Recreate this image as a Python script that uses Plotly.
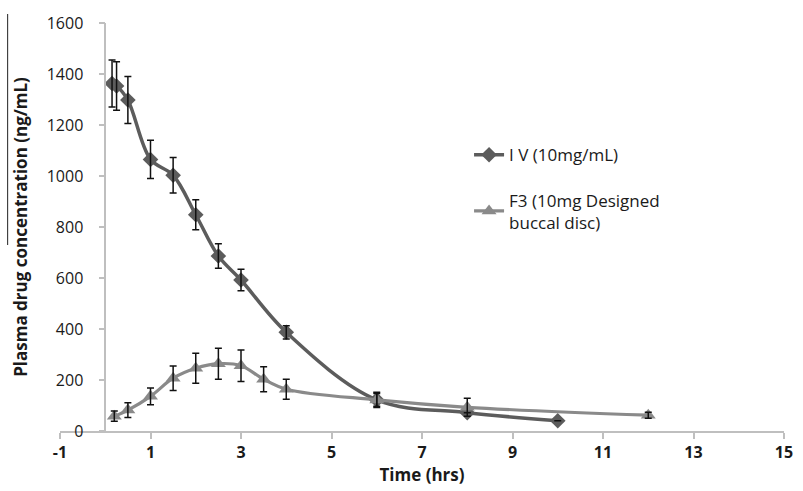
import plotly.graph_objects as go

# Data
iv_time = [0.15, 0.25, 0.5, 1, 1.5, 2, 2.5, 3, 4, 6, 8, 10]
iv_conc = [1363, 1353, 1298, 1065, 1003, 848, 686, 592, 387, 122, 72, 40]
iv_err = [92, 95, 92, 75, 70, 59, 48, 42, 26, 30, 0, 0]

f3_time = [0.2, 0.5, 1, 1.5, 2, 2.5, 3, 3.5, 4, 6, 8, 12]
f3_conc = [58, 82, 136, 207, 246, 264, 256, 203, 164, 122, 93, 62]
f3_err = [20, 29, 33, 48, 59, 61, 62, 49, 39, 25, 35, 12]

iv_name = "I V (10mg/mL)"
f3_name = "F3 (10mg Designed<br>buccal disc)"

x_ticks = [-1, 1, 3, 5, 7, 9, 11, 13, 15]
y_ticks = [0, 200, 400, 600, 800, 1000, 1200, 1400, 1600]

IV_COL = "#5c5c5c"
F3_COL = "#8a8a8a"
FONT = "'Open Sans', sans-serif"

fig = go.Figure()

fig.add_trace(go.Scatter(
    x=iv_time, y=iv_conc, name=iv_name, mode="lines+markers",
    line=dict(color=IV_COL, width=3.5, shape="spline", smoothing=1.0),
    marker=dict(symbol="diamond", size=12, color=IV_COL),
    legendgroup="iv",
))
fig.add_trace(go.Scatter(
    x=f3_time, y=f3_conc, name=f3_name, mode="lines+markers",
    line=dict(color=F3_COL, width=3.2, shape="spline", smoothing=1.0),
    marker=dict(symbol="triangle-up", size=13, color=F3_COL),
    legendgroup="f3",
))
# error bars on top
fig.add_trace(go.Scatter(
    x=iv_time, y=iv_conc, mode="markers", showlegend=False, hoverinfo="skip",
    marker=dict(size=1, opacity=0),
    error_y=dict(type="data", array=iv_err, visible=True, color="#111111",
                 thickness=1.5, width=3.5),
))
fig.add_trace(go.Scatter(
    x=f3_time, y=f3_conc, mode="markers", showlegend=False, hoverinfo="skip",
    marker=dict(size=1, opacity=0),
    error_y=dict(type="data", array=f3_err, visible=True, color="#111111",
                 thickness=1.5, width=3.5),
))

fig.update_layout(
    width=803, height=491,
    margin=dict(l=60, r=10, t=23, b=60),
    plot_bgcolor="white", paper_bgcolor="white",
    font=dict(family=FONT, size=16, color="#1a1a1a"),
    showlegend=True,
    legend=dict(x=0.565, y=0.72, xanchor="left", yanchor="top",
                bgcolor="rgba(0,0,0,0)", font=dict(size=17, color="#1a1a1a"),
                traceorder="grouped", tracegroupgap=20, itemwidth=30),
    xaxis=dict(
        range=[-1, 15], tickvals=x_ticks, ticktext=[str(v) for v in x_ticks],
        showgrid=False, zeroline=False, showline=True, linecolor="#bfbfbf",
        linewidth=1.5, ticks="outside", ticklen=6, tickcolor="#bfbfbf",
        tickwidth=1.5, tickfont=dict(size=16, weight="bold"),
        title=dict(text="<b>Time (hrs)</b>", font=dict(size=17), standoff=0),
    ),
    yaxis=dict(
        range=[0, 1600], tickvals=y_ticks, ticktext=[str(v) for v in y_ticks],
        anchor="free", position=1/16,
        showgrid=False, zeroline=False, showline=True, linecolor="#bfbfbf",
        linewidth=1.5, ticks="outside", ticklen=6, tickcolor="#bfbfbf",
        tickwidth=1.5, tickfont=dict(size=16), ticklabelstandoff=12,
        title=dict(text="<b>Plasma drug concentration (ng/mL)</b>",
                   font=dict(size=17), standoff=14),
    ),
)

# thin stray line next to the y title in the source image
fig.add_shape(type="line", xref="paper", yref="paper",
              x0=-53/733, x1=-53/733, y0=(431-14)/408, y1=(431-245)/408,
              line=dict(color="#222222", width=1))

fig.write_html("out.html")
